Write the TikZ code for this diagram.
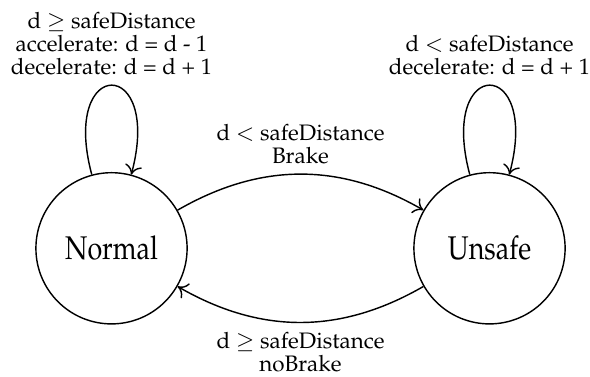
\documentclass[tikz,border=0pt]{standalone}
\usepackage[T1]{fontenc}
\usepackage{mathpazo}
\usepackage{tikz}
\usetikzlibrary{arrows.meta,positioning}
\definecolor{cLine}{HTML}{000000}
\newcommand{\stname}[1]{\scalebox{0.82}[1]{#1}}
\tikzset{
  state/.style = {circle, draw=cLine, line width=0.75pt, minimum size=2.8cm,
                  inner sep=0pt, font=\LARGE},
  fl/.style    = {-{To[length=5pt,width=9pt]}, draw=cLine, line width=0.75pt},
  lab/.style   = {align=center, inner sep=5pt,
                  font=\fontsize{11.8pt}{12.2pt}\selectfont},
}

\begin{document}
\begin{tikzpicture}
  \useasboundingbox (-2.065,-2.365) rectangle (8.861,4.598);
  % ---- STATES ----
  \node[state] (normal) at (0,0) {\stname{Normal}};
  \node[state] (unsafe) at (7,0) {\stname{Unsafe}};

  % ---- SELF LOOPS ----
  \draw[fl] (normal) to[loop above] node[lab, above]
    {d $\geq$ safeDistance\\accelerate: d = d - 1\\decelerate: d = d + 1} (normal);
  \draw[fl] (unsafe) to[loop above] node[lab, above]
    {d $<$ safeDistance\\decelerate: d = d + 1} (unsafe);

  % ---- TRANSITIONS ----
  \draw[fl] (normal) to[bend left=30] node[lab, above]
    {d $<$ safeDistance\\Brake} (unsafe);
  \draw[fl] (unsafe) to[bend left=30] node[lab, below]
    {d $\geq$ safeDistance\\noBrake} (normal);
\end{tikzpicture}
\end{document}
